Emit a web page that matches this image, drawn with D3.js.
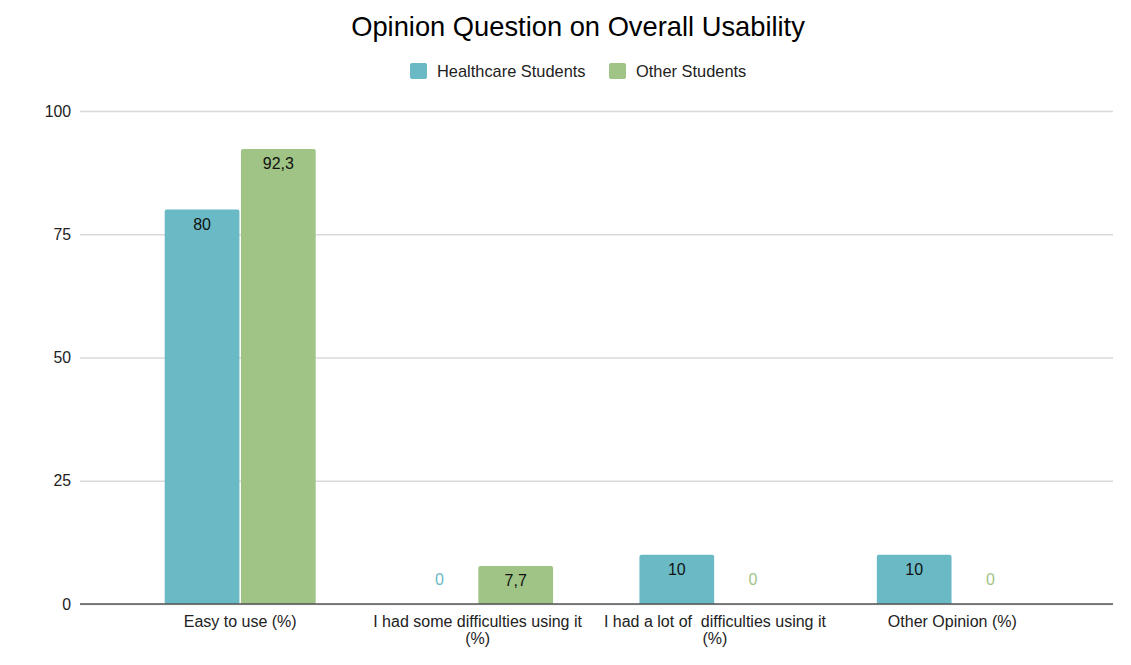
<!DOCTYPE html>
<html><head><meta charset="utf-8">
<script src="https://cdn.jsdelivr.net/npm/d3@7/dist/d3.min.js"></script>
<style>body{margin:0;background:#fff;} text{font-family:"Liberation Sans",Arial,sans-serif;}</style>
</head><body><svg id="c" width="1131" height="665"></svg>
<script>
const categories = ["Easy to use (%)", "I had some difficulties using it (%)", "I had a lot of  difficulties using it (%)", "Other Opinion (%)"];
const seriesNames = ["Healthcare Students", "Other Students"];
const healthcare = [80, 0, 10, 10];
const other = [92.3, 7.7, 0, 0];
const yTicks = [0, 25, 50, 75, 100];
const colors = ["#6abac6", "#9fc485"];
const title = "Opinion Question on Overall Usability";

const svg = d3.select("#c");
const y = d3.scaleLinear().domain([0, 100]).range([604, 111]);
const x = d3.scaleBand().domain(categories).range([121.5, 1071]);
const inner = d3.scaleBand().domain(seriesNames).range([0, 151]).paddingInner(0.02);
const fmt = v => String(v).replace(".", ",");
const FF = "Liberation Sans, Arial, sans-serif";

svg.append("text").attr("x", 578).attr("y", 36).attr("text-anchor", "middle")
  .attr("font-size", 27.3).attr("fill", "#000").text(title);

// legend
const legend = [[410, 437], [609, 636]];
seriesNames.forEach((s, i) => {
  svg.append("rect").attr("x", legend[i][0]).attr("y", 63).attr("width", 17).attr("height", 16).attr("rx", 2).attr("fill", colors[i]);
  svg.append("text").attr("x", legend[i][1]).attr("y", 77).attr("font-size", 16.4).attr("fill", "#222").text(s);
});

// grid
const yAxis = d3.axisLeft(y).tickValues(yTicks).tickSize(-(1113 - 80)).tickPadding(9);
const gy = svg.append("g").attr("transform", "translate(80,0)").call(yAxis);
gy.select(".domain").remove();
gy.selectAll(".tick line").attr("stroke", "#d9d9d9").attr("stroke-width", 1.3);
gy.selectAll(".tick text").attr("font-size", 15.8).attr("fill", "#222").attr("font-family", FF);

// bars
const data = [healthcare, other];
data.forEach((vals, si) => {
  const g = svg.append("g");
  vals.forEach((v, ci) => {
    const cx = x(categories[ci]) + x.bandwidth() / 2 - 75.5;
    const bx = cx + inner(seriesNames[si]);
    const bw = inner.bandwidth();
    if (v > 0) {
      const top = y(v), bot = y(0), r = 2;
      g.append("path").attr("fill", colors[si])
        .attr("d", `M${bx},${bot}V${top + r}Q${bx},${top} ${bx + r},${top}H${bx + bw - r}Q${bx + bw},${top} ${bx + bw},${top + r}V${bot}Z`);
      g.append("text").attr("x", bx + bw / 2).attr("y", top + 20).attr("text-anchor", "middle")
        .attr("font-size", 16).attr("fill", "#111").text(fmt(v));
    } else {
      g.append("text").attr("x", bx + bw / 2).attr("y", y(0) - 19).attr("text-anchor", "middle")
        .attr("font-size", 16).attr("fill", colors[si]).text(fmt(v));
    }
  });
});

// x axis
const xAxis = d3.axisBottom(x).tickSize(0).tickPadding(0);
const gx = svg.append("g").attr("transform", "translate(0,604)").call(xAxis);
gx.select(".domain").remove();
svg.append("line").attr("x1", 80).attr("x2", 1113).attr("y1", 604).attr("y2", 604).attr("stroke", "#555").attr("stroke-width", 1.4);
gx.selectAll(".tick text").each(function(d) {
  const t = d3.select(this);
  t.text(null).attr("font-size", 16).attr("fill", "#222").attr("y", 23).attr("dy", 0)
    .attr("font-family", FF).style("white-space", "pre");
  const words = d.split(" ");
  const lines = [];
  let cur = "";
  const maxW = 235;
  const tmp = svg.append("text").attr("font-size", 16).style("white-space", "pre").attr("font-family", FF);
  words.forEach(w => {
    const test = cur === "" ? w : cur + " " + w;
    tmp.text(test);
    if (tmp.node().getComputedTextLength() > maxW && cur !== "") { lines.push(cur); cur = w; }
    else cur = test;
  });
  lines.push(cur);
  tmp.remove();
  lines.forEach((l, i) => t.append("tspan").attr("x", 0).attr("y", 23 + i * 16.5).text(l));
});
</script></body></html>
